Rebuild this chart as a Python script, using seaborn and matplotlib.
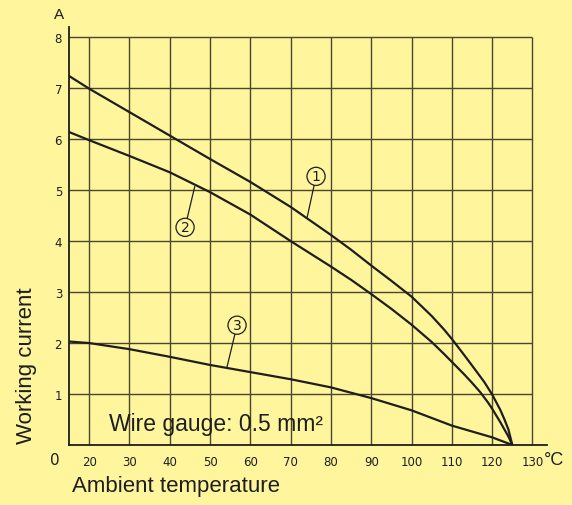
import matplotlib
matplotlib.use("Agg")
import matplotlib.pyplot as plt
import seaborn as sns

# values (temperature in °C, current in A)
temp_1 = [15, 20, 30, 40, 50, 60, 70, 80, 85, 90, 95, 100, 105, 108, 110, 113, 115, 118, 120, 122, 123, 124, 125]
curve_1 = [7.24, 6.99, 6.53, 6.07, 5.61, 5.16, 4.67, 4.12, 3.83, 3.52, 3.22, 2.91, 2.53, 2.27, 2.08, 1.77, 1.56, 1.24, 0.99, 0.69, 0.51, 0.31, 0.0]

temp_2 = [15, 20, 30, 40, 50, 60, 70, 80, 85, 90, 95, 100, 105, 108, 110, 113, 115, 117, 119, 120, 122, 123, 124, 125]
curve_2 = [6.14, 5.98, 5.67, 5.35, 4.96, 4.52, 4.0, 3.5, 3.24, 2.96, 2.67, 2.36, 2.02, 1.79, 1.63, 1.39, 1.22, 1.04, 0.83, 0.71, 0.45, 0.31, 0.17, 0.0]

temp_3 = [15, 20, 30, 40, 50, 60, 70, 80, 90, 100, 110, 120, 125]
curve_3 = [2.03, 2.0, 1.88, 1.73, 1.57, 1.43, 1.29, 1.13, 0.92, 0.68, 0.38, 0.15, 0.0]

x_ticks = [20, 30, 40, 50, 60, 70, 80, 90, 100, 110, 120, 130]
y_ticks = [1, 2, 3, 4, 5, 6, 7, 8]

# curve markers: label, circle position, point on the curve
markers = [("1", (76.3, 5.27), (74.1, 4.47)),
           ("2", (43.8, 4.27), (46.2, 5.07)),
           ("3", (56.7, 2.35), (54.2, 1.53))]

bg = "#fff59d"
ink = "#1e1e1e"
grid_c = "#4a4632"

sns.set_style("white")
plt.rcParams["font.family"] = ["Liberation Sans", "DejaVu Sans"]

fig = plt.figure(figsize=(5.72, 5.06), dpi=100, facecolor=bg)
ax = fig.add_axes([69 / 572, 60 / 506, 478 / 572, 418 / 506])
ax.set_facecolor(bg)

ax.set_xlim(15, 133.6)
ax.set_ylim(0, 8.2)

# grid stops at 130 °C / 8 A
ax.vlines(x_ticks, 0, 8, color=grid_c, lw=1.0, zorder=1)
ax.hlines(y_ticks, 15, 130, color=grid_c, lw=1.0, zorder=1)

for xs, ys in [(temp_1, curve_1), (temp_2, curve_2), (temp_3, curve_3)]:
    sns.lineplot(x=xs, y=ys, ax=ax, color=ink, lw=1.6, sort=False, zorder=3)

for lab, txt_pos, pt in markers:
    ax.annotate(lab, xy=pt, xytext=txt_pos, ha="center", va="center",
                fontsize=10, family="DejaVu Sans", color=ink,
                bbox=dict(boxstyle="circle,pad=0.15", fc=bg, ec=ink, lw=0.9),
                arrowprops=dict(arrowstyle="-", color=ink, lw=0.9, shrinkA=0, shrinkB=0),
                zorder=4)

for s in ["top", "right"]:
    ax.spines[s].set_visible(False)
for s in ["left", "bottom"]:
    ax.spines[s].set_color(ink)
    ax.spines[s].set_linewidth(1.3)

ax.set_xticks(x_ticks)
ax.set_yticks(y_ticks)
ax.tick_params(length=0, labelsize=8.5, colors=ink, labelfontfamily="DejaVu Sans")
ax.tick_params(axis="x", pad=7)
ax.tick_params(axis="y", pad=5)

ax.text(-0.02, -0.035, "0", transform=ax.transAxes, ha="right", va="center",
        fontsize=11, family="DejaVu Sans", color=ink)
ax.text(-0.02, 1.015, "A", transform=ax.transAxes, ha="center", va="bottom",
        fontsize=11, color=ink)
ax.text(1.015, -0.035, "°C", transform=ax.transAxes, ha="center", va="center",
        fontsize=13, color=ink)

fig.text(72 / 572, 1 - 487 / 506, "Ambient temperature", ha="left", va="center",
         fontsize=16, color=ink)
fig.text(27 / 572, 1 - 366 / 506, "Working current", rotation=90, ha="center", va="center",
         fontsize=16, color=ink)
ax.text(51.5, 0.42, "Wire gauge: 0.5 mm²", ha="center", va="center",
        fontsize=16.5, color=ink, zorder=5)

fig.savefig("out.png", dpi=100, facecolor=bg)
